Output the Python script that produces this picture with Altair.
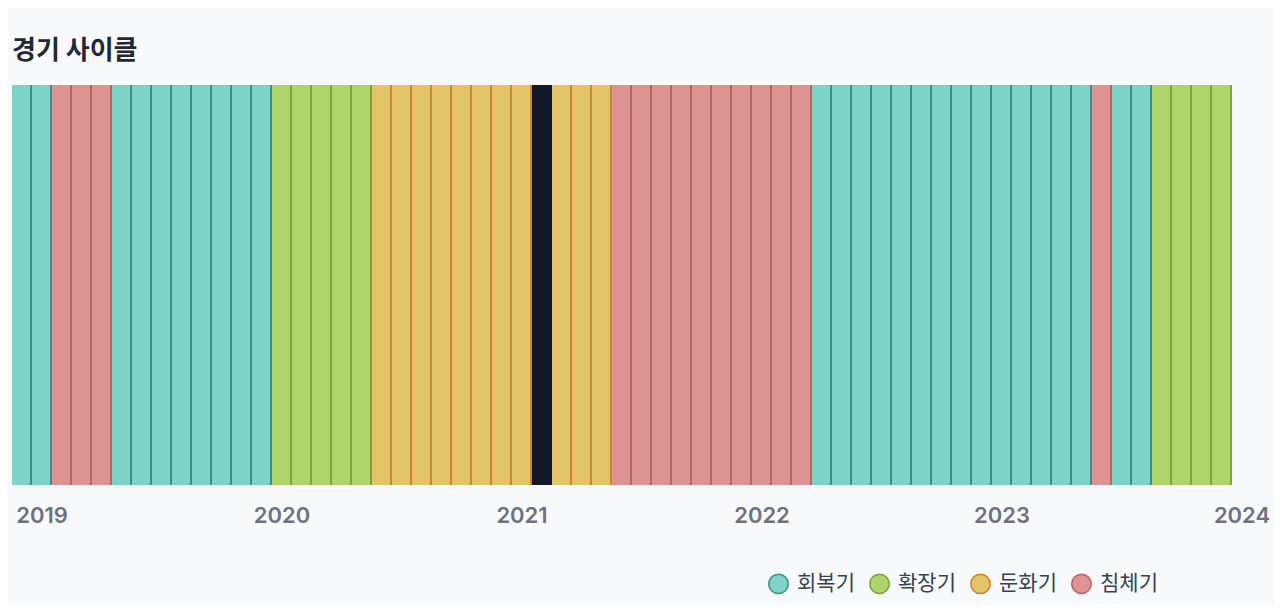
import altair as alt
import pandas as pd

# Months shown on the axis (band per month), plus one empty slot for 2024-01
months = [str(p) for p in pd.period_range("2018-12", "2023-12", freq="M")]
axis_months = months + ["2024-01"]
year_ticks = ["2019-01", "2020-01", "2021-01", "2022-01", "2023-01", "2024-01"]

phases = [
    "회복기", "회복기",
    "침체기", "침체기", "침체기",
    "회복기", "회복기", "회복기", "회복기", "회복기", "회복기", "회복기", "회복기",
    "확장기", "확장기", "확장기", "확장기", "확장기",
    "둔화기", "둔화기", "둔화기", "둔화기", "둔화기", "둔화기", "둔화기", "둔화기",
    "둔화기",
    "둔화기", "둔화기", "둔화기",
    "침체기", "침체기", "침체기", "침체기", "침체기", "침체기", "침체기", "침체기", "침체기", "침체기",
    "회복기", "회복기", "회복기", "회복기", "회복기", "회복기", "회복기",
    "회복기", "회복기", "회복기", "회복기", "회복기", "회복기", "회복기",
    "침체기",
    "회복기", "회복기",
    "확장기", "확장기", "확장기", "확장기",
]
highlight_months = ["2021-02"]

phase_order = ["회복기", "확장기", "둔화기", "침체기"]
fill_colors = ["#7ed3c8", "#aed46a", "#e2c368", "#de9393"]
stroke_colors = ["#3f8f83", "#7aa537", "#d0842e", "#b66565"]

df = pd.DataFrame({"month": months, "phase": phases})
df["highlight"] = df["month"].isin(highlight_months)

FONT = "Inter, Noto Sans CJK KR"
KFONT = "Noto Sans CJK KR"

x_enc = alt.X(
    "month:O",
    scale=alt.Scale(domain=axis_months, paddingInner=0, paddingOuter=0),
    axis=alt.Axis(
        values=year_ticks,
        labelExpr="substring(datum.value, 0, 4)",
        labelAngle=0,
        labelFontSize=22,
        labelFont=FONT,
        labelFontWeight=600,
        labelColor="#6b7280",
        labelPadding=20,
        ticks=False,
        domain=False,
        grid=False,
        title=None,
    ),
)

legend = alt.Legend(
    title=None,
    orient="none",
    legendX=756,
    legendY=488,
    direction="horizontal",
    columns=4,
    symbolType="circle",
    symbolSize=380,
    symbolStrokeWidth=1.5,
    labelFontSize=21,
    labelFont=KFONT,
    labelColor="#374151",
    labelOffset=8,
    columnPadding=11,
    padding=0,
)

bars = alt.Chart(df).mark_bar().encode(
    x=x_enc,
    fill=alt.Fill("phase:N", scale=alt.Scale(domain=phase_order, range=fill_colors), legend=legend),
)

edges = alt.Chart(df).mark_rule(strokeWidth=2, xOffset=9).encode(
    x=x_enc,
    stroke=alt.Stroke("phase:N", scale=alt.Scale(domain=phase_order, range=stroke_colors), legend=legend),
)

hl = alt.Chart(df).transform_filter("datum.highlight").mark_bar(fill="#111827").encode(
    x=x_enc,
)

chart = (
    alt.layer(bars, edges, hl)
    .properties(
        width=1240,
        height=400,
        title=alt.TitleParams(
            "경기 사이클",
            anchor="start",
            fontSize=26,
            fontWeight=700,
            font=KFONT,
            color="#1f2937",
            offset=20,
        ),
        padding={"left": 4, "top": 30, "right": 4, "bottom": 8},
        background="#f8f9fb",
    )
    .configure_view(stroke=None)
)

chart.save("out.html", embed_options={"renderer": "svg", "actions": False})
